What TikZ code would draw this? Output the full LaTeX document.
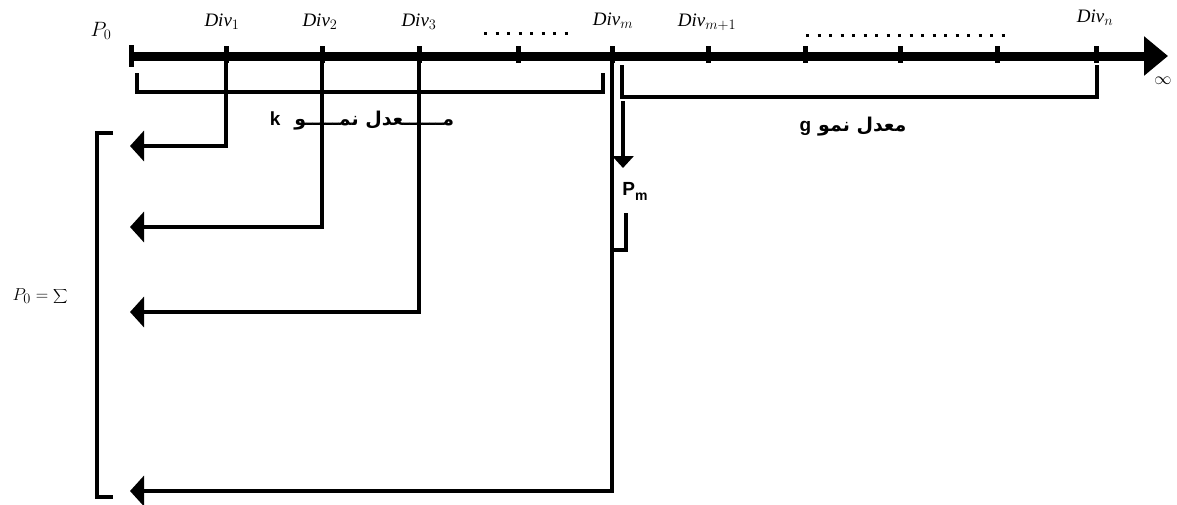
\documentclass[tikz,border=0pt]{standalone}
\usepackage{fontspec}
\setmainfont{Liberation Serif}
\newfontfamily\arabicfont[Script=Arabic]{DejaVu Sans}
\newfontfamily\sansf{Liberation Sans}
\TeXXeTstate=1
\usetikzlibrary{arrows.meta}
\begin{document}
\begin{tikzpicture}[x=1pt,y=-1pt,
  axisline/.style={line width=9pt,-{Triangle[width=38pt,length=24pt]}},
  tickmark/.style={line width=5pt},
  arr/.style={line width=4.5pt,-{Triangle[width=30pt,length=14pt]}},
  brk/.style={line width=4pt},
  divlbl/.style={font=\fontsize{19}{21}\selectfont\itshape, inner sep=0pt},
  dots/.style={line width=3pt,dash pattern=on 3pt off 8.5pt},
  arlbl/.style={font=\fontsize{19}{21}\selectfont\bfseries, inner sep=0pt}
]
\useasboundingbox (0,0) rectangle (1177,504);
% axis
\coordinate (O) at (130,56);
\coordinate (inf) at (1168,56);
\draw[axisline] (O) -- (inf);
\draw[tickmark] (131,45) -- (131,67);
% tick coordinates
\coordinate (d1) at (226,46);
\coordinate (d2) at (322,46);
\coordinate (d3) at (419,46);
\coordinate (t4) at (518,46);
\coordinate (dm) at (612,46);
\coordinate (dm1) at (708,46);
\coordinate (t7) at (805,46);
\coordinate (t8) at (900,46);
\coordinate (t9) at (997,46);
\coordinate (dn) at (1096,46);
\foreach \t in {d1,d2,d3,t4,dm,dm1,t7,t8,t9,dn}
  \draw[tickmark] (\t) -- ++(0,17);
% labels on top
\node[font=\fontsize{20}{22}\selectfont, inner sep=0pt] (p0) at (101,31) {$P_0$};
\node[divlbl] (L1) at (222,22) {Div$_1$};
\node[divlbl] (L2) at (320,22) {Div$_2$};
\node[divlbl] (L3) at (419,22) {Div$_3$};
\node[divlbl] (Lm) at (613,21) {Div$_m$};
\node[divlbl] (Lm1) at (707,22) {Div$_{m+1}$};
\node[divlbl] (Ln) at (1095,18) {Div$_n$};
\node[font=\fontsize{19}{21}\selectfont, inner sep=0pt] (inftxt) at (1163,81) {$\infty$};
% dotted runs
\coordinate (ds1) at (484,33);
\coordinate (de1) at (570,33);
\coordinate (ds2) at (806,35);
\coordinate (de2) at (1008,35);
\draw[dots] (ds1) -- (de1);
\draw[dots] (ds2) -- (de2);
% brackets
\coordinate (kb1) at (137,73);
\coordinate (kb2) at (603,73);
\draw[brk] (kb1) -- ++(0,19) -| (kb2);
\coordinate (gb1) at (622,65);
\coordinate (gb2) at (1097,65);
\draw[brk] (gb1) -- ++(0,32) -| (gb2);
\node[arlbl] (klbl) at (362,121) {{\sansf k}\hspace{14pt}{\arabicfont\beginR مــــــعدل نمـــــو\endR}};
\node[arlbl] (glbl) at (853,127) {{\sansf g}\hspace{7pt}{\arabicfont\beginR معدل نمو\endR}};
% arrows to the left
\coordinate (a1) at (130,146);
\coordinate (a2) at (130,227);
\coordinate (a3) at (130,312);
\coordinate (a4) at (130,491);
\draw[arr] (d1) |- (a1);
\draw[arr] (d2) |- (a2);
\draw[arr] (d3) |- (a3);
\draw[arr] (dm) |- (a4);
% P_m arrow
\coordinate (pms) at (623,101);
\coordinate (pme) at (623,168);
\draw[line width=3.5pt,-{Triangle[width=21pt,length=12pt]}] (pms) -- (pme);
\node[font=\fontsize{19}{21}\selectfont\sansf\bfseries, inner sep=0pt] (pm) at (635,191) {P\raisebox{-5pt}{\fontsize{14}{15}\selectfont m}};
\coordinate (pb) at (626,213);
\draw[brk] (pb) |- (dm |- 0,250);
% big left bracket
\coordinate (lb1) at (113,133);
\coordinate (lb2) at (113,497);
\draw[brk] (lb1) -- (97,133) -- (97,497) -- (lb2);
\node[font=\fontsize{19}{21}\selectfont, inner sep=0pt] (sum) at (40,296) {$P_0=\displaystyle\sum$};
\end{tikzpicture}
\end{document}
